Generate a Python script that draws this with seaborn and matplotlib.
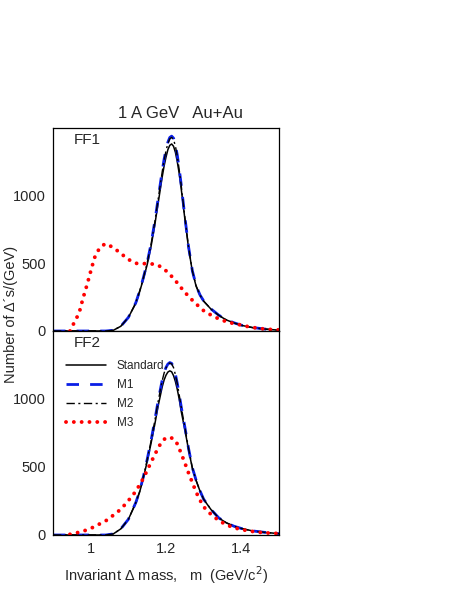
import matplotlib
matplotlib.use('Agg')
import matplotlib.pyplot as plt
import seaborn as sns
import pandas as pd
from matplotlib.ticker import MultipleLocator

# grid for the resonance-like curves (GeV)
m_grid = [0.90, 1.00, 1.04, 1.06, 1.08, 1.10, 1.12, 1.13, 1.14, 1.15, 1.16, 1.17,
          1.18, 1.19, 1.195, 1.20, 1.205, 1.21, 1.215, 1.22, 1.225, 1.23, 1.235, 1.24,
          1.25, 1.26, 1.27, 1.28, 1.29, 1.30, 1.32, 1.34, 1.36, 1.38, 1.40, 1.43, 1.46, 1.50]

# FF1
ff1_standard = [0, 0, 0, 5, 35, 100, 205, 290, 385, 490, 620, 780, 960, 1140, 1220, 1285,
                1340, 1372, 1382, 1365, 1320, 1250, 1165, 1060,
                830, 610, 440, 330, 265, 220, 160, 115, 82, 60, 42, 25, 15, 6]
ff1_m1 = [0, 0, 0, 5, 35, 100, 210, 295, 395, 505, 640, 805, 995, 1185, 1270, 1340,
          1395, 1430, 1440, 1425, 1375, 1300, 1200, 1090,
          845, 620, 445, 335, 268, 222, 162, 117, 84, 61, 43, 26, 15, 6]
ff1_m2 = [0, 0, 0, 5, 35, 100, 210, 295, 393, 502, 636, 800, 990, 1178, 1262, 1332,
          1386, 1420, 1430, 1415, 1366, 1292, 1192, 1085,
          842, 618, 444, 334, 267, 221, 161, 116, 83, 60, 42, 25, 15, 6]

m3_ff1_m = [0.945, 0.95, 0.96, 0.97, 0.98, 0.99, 1.00, 1.01, 1.02, 1.03, 1.04, 1.06, 1.08,
            1.10, 1.12, 1.14, 1.16, 1.18, 1.20, 1.22, 1.24, 1.26, 1.28, 1.30, 1.32,
            1.34, 1.36, 1.38, 1.40, 1.42, 1.44, 1.46, 1.48, 1.50]
m3_ff1 = [0, 30, 80, 140, 245, 338, 440, 540, 595, 630, 645, 617, 573, 529, 500, 498,
          497, 485, 445, 390, 320, 255, 200, 150, 117, 90, 69, 55, 44, 31, 22, 15, 11, 8]

# FF2
ff2_standard = [0, 0, 0, 8, 45, 115, 235, 315, 420, 540, 670, 810, 960, 1090, 1140, 1175,
                1198, 1207, 1200, 1172, 1128, 1070, 1000, 915,
                775, 625, 490, 400, 325, 262, 185, 125, 90, 65, 48, 30, 20, 10]
ff2_m1 = [0, 0, 0, 8, 45, 115, 240, 322, 430, 555, 690, 840, 1000, 1140, 1195, 1232,
          1257, 1268, 1262, 1235, 1182, 1115, 1035, 950,
          795, 635, 495, 402, 326, 263, 186, 126, 90, 65, 48, 30, 20, 10]
ff2_m2 = [0, 0, 0, 8, 45, 115, 240, 320, 428, 552, 687, 836, 995, 1136, 1191, 1228,
          1253, 1264, 1258, 1231, 1178, 1112, 1032, 948,
          793, 633, 494, 401, 326, 263, 186, 126, 90, 65, 48, 30, 20, 10]

m3_ff2_m = [0.945, 0.96, 0.98, 1.00, 1.02, 1.04, 1.06, 1.08, 1.10, 1.12, 1.14, 1.16, 1.18,
            1.19, 1.20, 1.21, 1.22, 1.23, 1.24, 1.25, 1.26, 1.27, 1.28, 1.29, 1.30, 1.32,
            1.34, 1.36, 1.38, 1.40, 1.43, 1.46, 1.50]
m3_ff2 = [5, 14, 28, 48, 76, 104, 145, 189, 252, 322, 417, 533, 645, 690, 715, 718, 708,
          670, 602, 530, 455, 385, 315, 258, 207, 150, 107, 75, 54, 40, 26, 16, 11]

panels = ['FF1', 'FF2']

sns.set_style('white')
plt.rcParams['font.family'] = ['Liberation Sans', 'DejaVu Sans']
plt.rcParams['lines.dash_capstyle'] = 'butt'

fig = plt.figure(figsize=(4.63, 5.99), dpi=100)
ax_top = fig.add_axes([53/463, 1-331/599, 226/463, 203/599])
ax_bot = fig.add_axes([53/463, 1-535/599, 226/463, 204/599])

curves = {
    'FF1': (ff1_standard, ff1_m1, ff1_m2, m3_ff1_m, m3_ff1),
    'FF2': (ff2_standard, ff2_m1, ff2_m2, m3_ff2_m, m3_ff2),
}

for ax, name in zip([ax_top, ax_bot], panels):
    std, m1, m2, m3x, m3y = curves[name]
    df = pd.DataFrame({'m': m_grid, 'Standard': std, 'M1': m1, 'M2': m2})
    df3 = pd.DataFrame({'m': m3x, 'M3': m3y})
    sns.lineplot(data=df, x='m', y='Standard', ax=ax, color='black', lw=1.1, label='Standard')
    sns.lineplot(data=df, x='m', y='M1', ax=ax, color='#0a1ee6', lw=2.0,
                 label='M1').lines[-1].set_dashes((4.5, 4))
    l2 = sns.lineplot(data=df, x='m', y='M2', ax=ax, color='black', lw=1.0, label='M2').lines[-1]
    l2.set_dashes((6, 2.5, 1.5, 2.5))
    l3 = sns.lineplot(data=df3, x='m', y='M3', ax=ax, color='red', lw=2.8, label='M3').lines[-1]
    l3.set_dashes((0.01, 2.0))
    l3.set_dash_capstyle('round')

    ax.set_xlim(0.9, 1.5)
    ax.set_ylim(0, 1500)
    ax.xaxis.set_major_locator(MultipleLocator(0.2))
    ax.xaxis.set_minor_locator(MultipleLocator(0.05))
    ax.yaxis.set_major_locator(MultipleLocator(500))
    ax.yaxis.set_minor_locator(MultipleLocator(100))
    ax.set_yticks([0, 500, 1000])
    ax.tick_params(which='major', direction='in', length=7, width=0.8, labelsize=10.5, pad=5,
                   top=False, right=False)
    ax.tick_params(which='minor', direction='in', length=3.5, width=0.8, top=False, right=False)
    ax.set_xlabel('')
    ax.set_ylabel('')
    for sp in ax.spines.values():
        sp.set_linewidth(0.9)
        sp.set_color('black')
    ax.text(0.09, 0.94, name, transform=ax.transAxes, fontsize=11, va='center', ha='left')

ax_top.tick_params(labelbottom=False)
ax_top.get_legend().remove()
ax_bot.xaxis.set_major_formatter(plt.FuncFormatter(lambda v, p: f'{v:g}'))

leg = ax_bot.legend(loc='upper left', bbox_to_anchor=(0.02, 0.9), frameon=False, fontsize=8.5,
                    handlelength=3.4, handletextpad=0.9, labelspacing=0.6, borderaxespad=0.3)

ax_bot.set_xlabel('Invariant \u0394 mass,   m  (GeV/c$^2$)', fontsize=10.5, labelpad=6)
fig.text(11/463, 1-314/599, 'Number of \u0394\u00b4s/(GeV)', rotation=90, fontsize=10.5,
         ha='center', va='center')
fig.text(181/463, 1-113/599, '1 A GeV   Au+Au', fontsize=12, ha='center', va='center')

fig.savefig('out.png', dpi=100)
